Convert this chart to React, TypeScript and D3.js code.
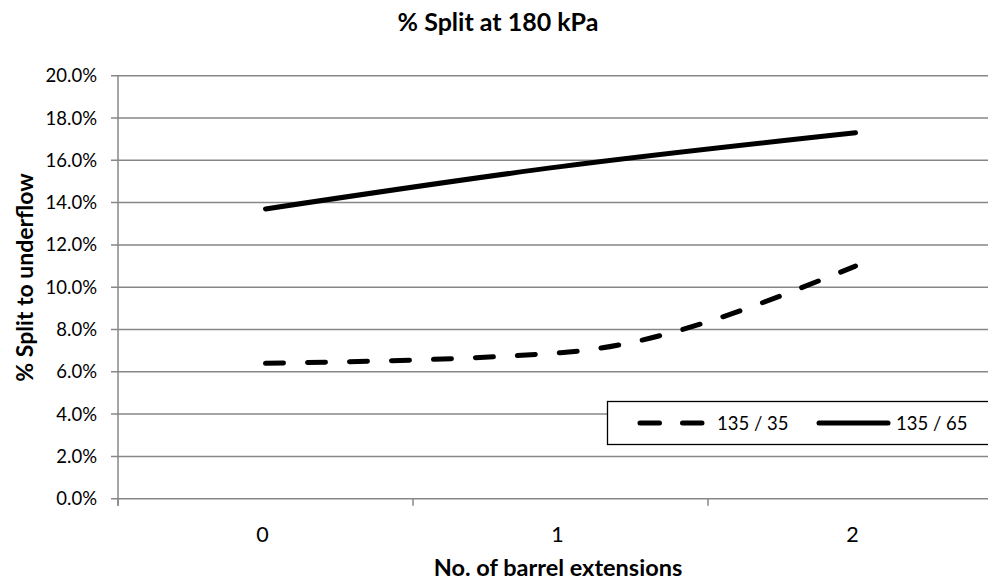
import React from "react";
import * as d3 from "d3";

const categories = ["0", "1", "2"];
const series35 = [6.4, 6.9, 11.0];
const series65 = [13.7, 15.7, 17.3];
const seriesNames = ["135 / 35", "135 / 65"];
const yTicks = [0, 2, 4, 6, 8, 10, 12, 14, 16, 18, 20];

const W = 988;
const H = 582;
const left = 118;
const right = 1003;
const top = 75.7;
const bottom = 498.7;
const FONT = "Lato, 'Open Sans', sans-serif";

export default function App() {
  const x = d3.scaleBand<string>().domain(categories).range([left, right]);
  const y = d3.scaleLinear().domain([0, 20]).range([bottom, top]);
  const line = d3
    .line<number>()
    .x((_, i) => (x(categories[i]) as number) + x.bandwidth() / 2)
    .y((d) => y(d))
    .curve(d3.curveMonotoneX);

  const grid = "#878787";
  return (
    <div style={{ position: "absolute", left: 0, top: 0, background: "#fff", overflow: "hidden", width: W, height: H }}>
      <svg width={W} height={H} style={{ display: "block" }}>
        <rect width={W} height={H} fill="#fff" />
        <text x={498} y={31} textAnchor="middle" fontFamily={FONT} fontWeight="bold" fontSize={25} fill="#000">
          % Split at 180 kPa
        </text>
        {yTicks.map((t) => (
          <g key={t}>
            <line x1={left - 7} x2={right} y1={y(t)} y2={y(t)} stroke={grid} strokeWidth={1.5} />
            <text x={97} y={y(t) + 6.5} textAnchor="end" fontFamily={FONT} fontSize={18.5} fill="#000">
              {t.toFixed(1) + "%"}
            </text>
          </g>
        ))}
        <line x1={left} x2={left} y1={top} y2={bottom + 7} stroke={grid} strokeWidth={1.5} />
        {categories.map((c) => (
          <g key={c}>
            <line x1={x(c) as number} x2={x(c) as number} y1={bottom} y2={bottom + 7} stroke={grid} strokeWidth={1.5} />
            <text
              x={(x(c) as number) + x.bandwidth() / 2 - 3}
              y={542}
              textAnchor="middle"
              fontFamily={FONT}
              fontSize={21.5}
              fill="#000"
            >
              {c}
            </text>
          </g>
        ))}
        <text x={558} y={576} textAnchor="middle" fontFamily={FONT} fontWeight="bold" fontSize={23.5} fill="#000">
          No. of barrel extensions
        </text>
        <text
          transform={`translate(33,277.5) rotate(-90)`}
          textAnchor="middle"
          fontFamily={FONT}
          fontWeight="bold"
          fontSize={23}
          fill="#000"
        >
          % Split to underflow
        </text>
        <path d={line(series65) || ""} fill="none" stroke="#000" strokeWidth={5} strokeLinecap="round" />
        <path
          d={line(series35) || ""}
          fill="none"
          stroke="#000"
          strokeWidth={5}
          strokeLinecap="round"
          strokeDasharray="18 24"
        />
        <rect x={607.5} y={401.5} width={390} height={43} fill="#fff" stroke="#000" strokeWidth={1.3} />
        <line x1={640} x2={702} y1={423} y2={423} stroke="#000" strokeWidth={5} strokeLinecap="round" strokeDasharray="19.5 23" />
        <text x={717} y={430} fontFamily={FONT} fontSize={18.5} fill="#000">
          {seriesNames[0]}
        </text>
        <line x1={819} x2={888} y1={423} y2={423} stroke="#000" strokeWidth={5} strokeLinecap="round" />
        <text x={896} y={430} fontFamily={FONT} fontSize={18.5} fill="#000">
          {seriesNames[1]}
        </text>
      </svg>
    </div>
  );
}
